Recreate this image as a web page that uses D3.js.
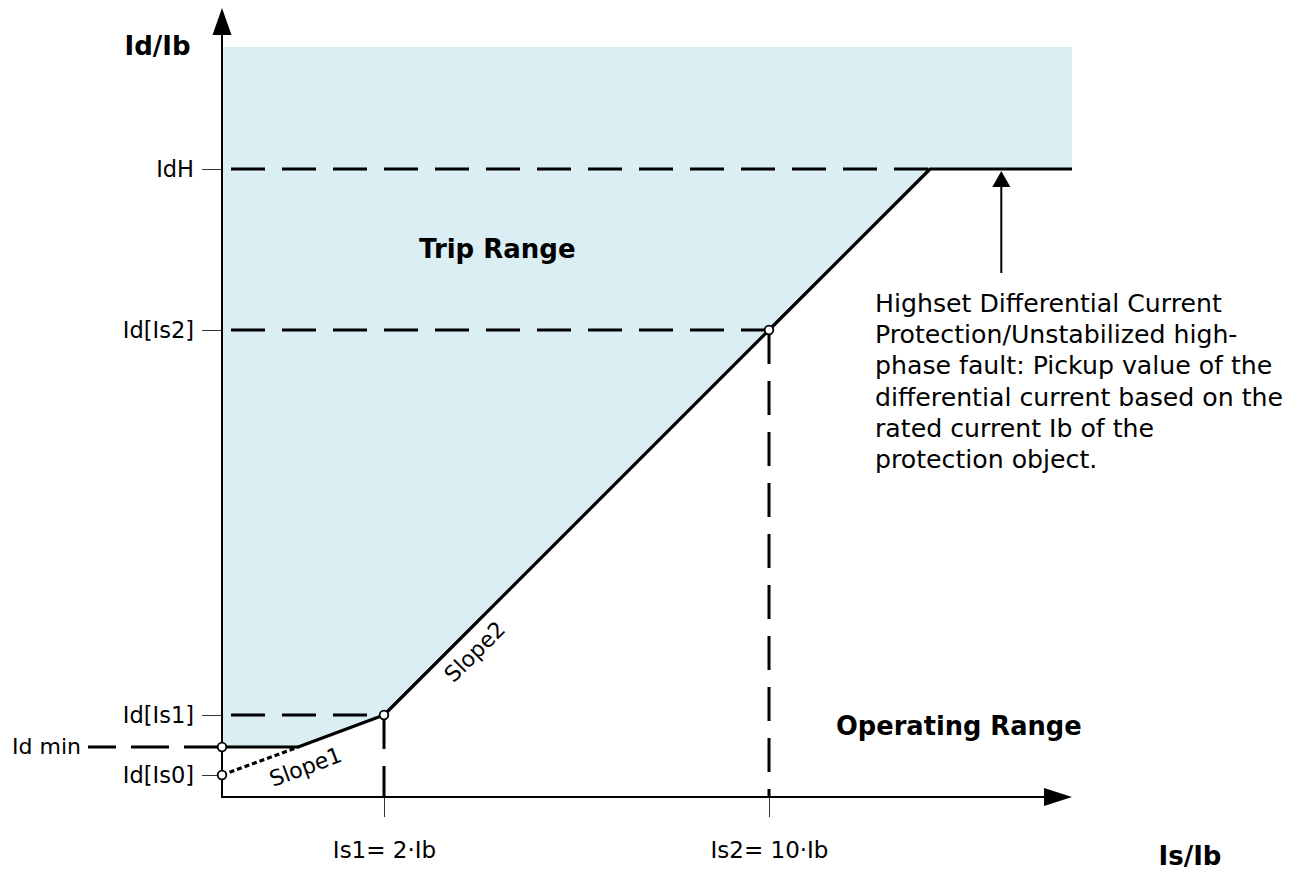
<!DOCTYPE html>
<html>
<head>
<meta charset="utf-8">
<script src="https://cdn.jsdelivr.net/npm/d3@7"></script>
<style>
  html, body { margin: 0; padding: 0; background: #fff; }
  svg { display: block; font-family: "DejaVu Sans", sans-serif; }
</style>
</head>
<body>
<svg id="chart" width="1307" height="872"></svg>
<script>
// ---------- data (schematic units: Is/Ib horizontally, Id/Ib vertically) ----------
const xTickValues = [2, 10];
const xTickLabels = ["Is1= 2·Ib", "Is2= 10·Ib"];
const yTickValues = [0.22, 0.82, 4.67, 6.28];
const yTickLabels = ["Id[Is0]", "Id[Is1]", "Id[Is2]", "IdH"];
const idMinValue = 0.5;
const idMinLabel = "Id min";
// tripping characteristic (break points)
const charX = [0, 0.94, 2, 10, 13.19, 16];
const charY = [0.5, 0.5, 0.82, 4.67, 6.28, 6.28];
// slope1 extension down to Id[Is0]
const slope1X = [0, 0.94];
const slope1Y = [0.22, 0.5];
// marked points (open circles)
const markX = [0, 0, 2, 10];
const markY = [0.5, 0.22, 0.82, 4.67];
const xMax = 16, yMax = 7.5;
const annotationLines = [
  "Highset Differential Current",
  "Protection/Unstabilized high-",
  "phase fault: Pickup value of the",
  "differential current based on the",
  "rated current Ib of the",
  "protection object."
];
const annotationX = 14.6; // Is/Ib position of the annotation arrow

// ---------- scales ----------
const svg = d3.select("#chart");
const x = d3.scaleLinear().domain([0, 2, 10, xMax]).range([222, 384, 769, 1072]);
const y = d3.scaleLinear().domain([0, yMax]).range([797, 47]);
const x0 = x(0), y0 = y(0);

const fill = "#DAEEF3";

// ---------- trip area ----------
const areaPts = [[0, yMax], [xMax, yMax]];
for (let i = charX.length - 1; i >= 0; i--) areaPts.push([charX[i], charY[i]]);
svg.append("path")
  .attr("d", d3.line().x(d => x(d[0])).y(d => y(d[1]))(areaPts) + "Z")
  .attr("fill", fill);

// ---------- dashed guide lines ----------
const dash = "34,17";
const guides = svg.append("g").attr("stroke", "#000").attr("stroke-width", 3).attr("fill", "none");
// horizontal dashed lines from axis to characteristic
[[1, 2], [2, 2], [3, 3]].forEach(([ti, ci]) => {
  const v = yTickValues[ti];
  const xe = charX.find((cx, k) => charY[k] === v && k > 0);
  guides.append("line")
    .attr("x1", x0 + 1).attr("x2", x(xe))
    .attr("y1", y(v)).attr("y2", y(v))
    .attr("stroke-dasharray", dash).attr("stroke-dashoffset", 43);
});
// vertical dashed lines from Is1 / Is2 points down to axis
xTickValues.forEach(v => {
  const k = charX.indexOf(v);
  guides.append("line")
    .attr("x1", x(v)).attr("x2", x(v))
    .attr("y1", y(charY[k])).attr("y2", y0)
    .attr("stroke-dasharray", dash);
});
// Id min dashed line on the left
guides.append("line")
  .attr("x1", x0).attr("x2", 88)
  .attr("y1", y(idMinValue)).attr("y2", y(idMinValue))
  .attr("stroke-dasharray", "38,15");

// ---------- axes ----------
const axisG = svg.append("g");
// y axis ticks
const yAxis = d3.axisLeft(y).tickValues(yTickValues)
  .tickFormat((d, i) => yTickLabels[i]).tickSize(20).tickPadding(8);
const gy = axisG.append("g").attr("transform", `translate(${x0},0)`).call(yAxis);
gy.select(".domain").remove();
gy.selectAll(".tick line").attr("stroke", "#333").attr("stroke-width", 1);
gy.selectAll(".tick text").attr("font-size", 22.5).attr("fill", "#000")
  .attr("font-family", "DejaVu Sans, sans-serif");
// x axis ticks
const xAxis = d3.axisBottom(x).tickValues(xTickValues)
  .tickFormat((d, i) => xTickLabels[i]).tickSize(20).tickPadding(25);
const gx = axisG.append("g").attr("transform", `translate(0,${y0})`).call(xAxis);
gx.select(".domain").remove();
gx.selectAll(".tick line").attr("stroke", "#333").attr("stroke-width", 1);
gx.selectAll(".tick text").attr("font-size", 23).attr("fill", "#000")
  .attr("font-family", "DejaVu Sans, sans-serif");

// axis lines with arrow heads
axisG.append("line").attr("x1", x0).attr("x2", x0).attr("y1", y0 + 1).attr("y2", 30)
  .attr("stroke", "#000").attr("stroke-width", 2);
axisG.append("path").attr("d", `M${x0},8 L${x0 - 9.5},35 L${x0 + 9.5},35 Z`).attr("fill", "#000");
axisG.append("line").attr("x1", x0 - 1).attr("x2", 1048).attr("y1", y0).attr("y2", y0)
  .attr("stroke", "#000").attr("stroke-width", 2);
axisG.append("path").attr("d", `M1072,${y0} L1044,${y0 - 9} L1044,${y0 + 9} Z`).attr("fill", "#000");

// ---------- characteristic ----------
const lineGen = d3.line().x(d => x(d[0])).y(d => y(d[1]));
svg.append("path")
  .attr("d", lineGen(slope1X.map((v, i) => [v, slope1Y[i]])))
  .attr("fill", "none").attr("stroke", "#000").attr("stroke-width", 3.2)
  .attr("stroke-dasharray", "5,3");
svg.append("path")
  .attr("d", lineGen(charX.map((v, i) => [v, charY[i]])))
  .attr("fill", "none").attr("stroke", "#000").attr("stroke-width", 3.2)
  .attr("stroke-linejoin", "round");

// open circles
svg.append("g").selectAll("circle").data(markX.map((v, i) => [v, markY[i]])).join("circle")
  .attr("cx", d => x(d[0])).attr("cy", d => y(d[1])).attr("r", 4.3)
  .attr("fill", "#fff").attr("stroke", "#000").attr("stroke-width", 1.8);

// ---------- labels ----------
svg.append("text").attr("x", 81).attr("y", y(idMinValue)).attr("dy", "0.33em")
  .attr("text-anchor", "end").attr("font-size", 22).text(idMinLabel);

svg.append("text").attr("x", 157.5).attr("y", 55).attr("text-anchor", "middle")
  .attr("font-size", 26).attr("font-weight", "bold").text("Id/Ib");
svg.append("text").attr("x", 1190).attr("y", 865).attr("text-anchor", "middle")
  .attr("font-size", 26).attr("font-weight", "bold").text("Is/Ib");
svg.append("text").attr("x", 419).attr("y", 258)
  .attr("font-size", 26).attr("font-weight", "bold").text("Trip Range");
svg.append("text").attr("x", 836).attr("y", 735)
  .attr("font-size", 25.7).attr("font-weight", "bold").text("Operating Range");

// slope labels
function slopeLabel(xa, ya, xb, yb, t, along, off, txt) {
  const p1 = [x(xa), y(ya)], p2 = [x(xb), y(yb)];
  const ang = Math.atan2(p2[1] - p1[1], p2[0] - p1[0]) * 180 / Math.PI;
  const px = p1[0] + (p2[0] - p1[0]) * t, py = p1[1] + (p2[1] - p1[1]) * t;
  svg.append("text").attr("transform", `translate(${px},${py}) rotate(${ang})`)
    .attr("x", along).attr("y", off).attr("text-anchor", "middle")
    .attr("font-size", 22).text(txt);
}
slopeLabel(slope1X[0], slope1Y[0], charX[2], charY[2], 0.47, 0, 29, "Slope1");
slopeLabel(charX[2], charY[2], charX[3], charY[3], 0.2, 0, 27, "Slope2");

// annotation arrow + text
const ax = x(annotationX);
svg.append("line").attr("x1", ax).attr("x2", ax).attr("y1", 273).attr("y2", y(charY[4]) + 14)
  .attr("stroke", "#000").attr("stroke-width", 2);
svg.append("path")
  .attr("d", `M${ax},${y(charY[4]) + 2} L${ax - 9},${y(charY[4]) + 18} L${ax + 9},${y(charY[4]) + 18} Z`)
  .attr("fill", "#000");
const at = svg.append("text").attr("x", 875).attr("y", 312).attr("font-size", 25.2);
annotationLines.forEach((l, i) => {
  at.append("tspan").attr("x", 875).attr("y", 312 + i * 31.2).text(l);
});
</script>
</body>
</html>
